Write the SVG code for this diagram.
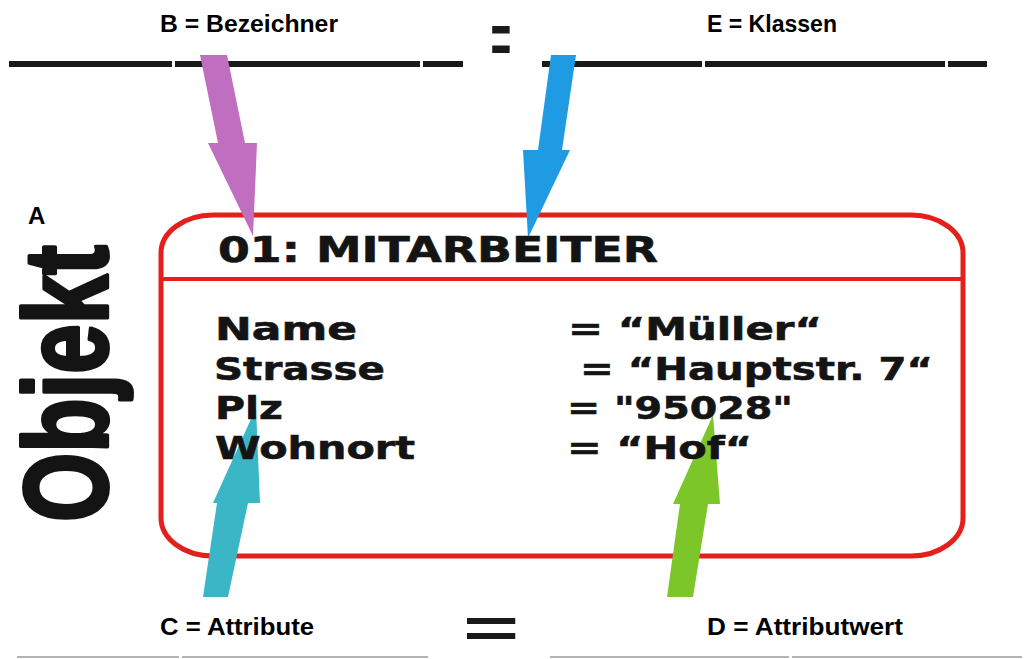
<svg xmlns="http://www.w3.org/2000/svg" width="1034" height="659" viewBox="0 0 1034 659">
<style>
.lbl{font-family:"Liberation Sans",Arial,sans-serif;font-weight:bold;font-size:24px;fill:#000}
.geo{font-family:"DejaVu Sans",sans-serif;font-weight:bold;fill:#141414;stroke:#141414;stroke-width:0.6}
.bar{fill:#1a1a1a}
.gray{fill:#b4b4b4}
</style>
<rect width="1034" height="659" fill="#fff"/>
<g id="top-lines">
<rect class="bar" x="9" y="61" width="163" height="6"/>
<rect class="bar" x="175" y="61" width="245" height="6"/>
<rect class="bar" x="423" y="61" width="40" height="6"/>
<rect class="bar" x="542" y="61" width="160" height="6"/>
<rect class="bar" x="705" y="61" width="240" height="6"/>
<rect class="bar" x="948" y="61" width="39" height="6"/>
</g>
<g id="bottom-lines">
<rect class="gray" x="17" y="656" width="162" height="2"/>
<rect class="gray" x="182" y="656" width="246" height="2"/>
<rect class="gray" x="550" y="656" width="239" height="2"/>
<rect class="gray" x="792" y="656" width="230" height="2"/>
</g>
<g id="object-box">
<rect x="161" y="215" width="802" height="341" rx="52" ry="38" fill="none" stroke="#e3201c" stroke-width="5"/>
<line x1="161" y1="279" x2="963" y2="279" stroke="#e3201c" stroke-width="4"/>
</g>
<g id="connectors">
<polygon id="arrow-b" points="200,55 227,55 245,143 257,143 253,236 208,143 218,143" fill="#c06ec0"/>
<polygon id="arrow-e" points="551,55 576,55 562,150 570,150 528,238 523,150 538,150" fill="#1e9be2"/>
<polygon id="arrow-c" points="203,597 217,503 213,503 256,408 260,503 248,503 228,597" fill="#3ab6c6"/>
<polygon id="arrow-d" points="667,597 680,504 673,504 713,415 720,504 708,504 693,597" fill="#7dc62a"/>
</g>
<g id="object-text">
<text class="geo" x="218" y="262" font-size="35" textLength="440" lengthAdjust="spacingAndGlyphs">01: MITARBEITER</text>
<text class="geo" x="215" y="340" font-size="32" textLength="142" lengthAdjust="spacingAndGlyphs">Name</text>
<text class="geo" x="214" y="380" font-size="32" textLength="171" lengthAdjust="spacingAndGlyphs">Strasse</text>
<text class="geo" x="215" y="419" font-size="32" textLength="68" lengthAdjust="spacingAndGlyphs">Plz</text>
<text class="geo" x="215" y="459" font-size="32" textLength="200" lengthAdjust="spacingAndGlyphs">Wohnort</text>
<text class="geo" x="568" y="340" font-size="32" textLength="254" lengthAdjust="spacingAndGlyphs">= “Müller“</text>
<text class="geo" x="580" y="380" font-size="32" textLength="353" lengthAdjust="spacingAndGlyphs">= “Hauptstr. 7“</text>
<text class="geo" x="567" y="419" font-size="32" textLength="226" lengthAdjust="spacingAndGlyphs">= "95028"</text>
<text class="geo" x="567" y="459" font-size="32" textLength="185" lengthAdjust="spacingAndGlyphs">= “Hof“</text>
</g>
<g id="objekt-title">
<text transform="translate(107,522) rotate(-90)" font-family="Liberation Sans, Arial, sans-serif" font-weight="bold" font-size="118" fill="#141414" stroke="#141414" stroke-width="4" stroke-linejoin="round" textLength="277" lengthAdjust="spacingAndGlyphs">Objekt</text>
</g>
<g id="symbols">
<text transform="translate(501,53) scale(2.3,1)" text-anchor="middle" font-family="Liberation Sans, Arial, sans-serif" font-weight="bold" font-size="54" fill="#1a1a1a">:</text>
<text transform="translate(491,647) scale(1.75,1)" text-anchor="middle" font-family="Liberation Sans, Arial, sans-serif" font-weight="bold" font-size="55" fill="#1a1a1a">=</text>
</g>
<g id="labels">
<text class="lbl" x="160" y="32" textLength="178" lengthAdjust="spacingAndGlyphs">B = Bezeichner</text>
<text class="lbl" x="707" y="32" textLength="130" lengthAdjust="spacingAndGlyphs">E = Klassen</text>
<text class="lbl" x="28" y="224">A</text>
<text class="lbl" x="160" y="635" textLength="154" lengthAdjust="spacingAndGlyphs">C = Attribute</text>
<text class="lbl" x="707" y="635" textLength="196" lengthAdjust="spacingAndGlyphs">D = Attributwert</text>
</g>
</svg>
